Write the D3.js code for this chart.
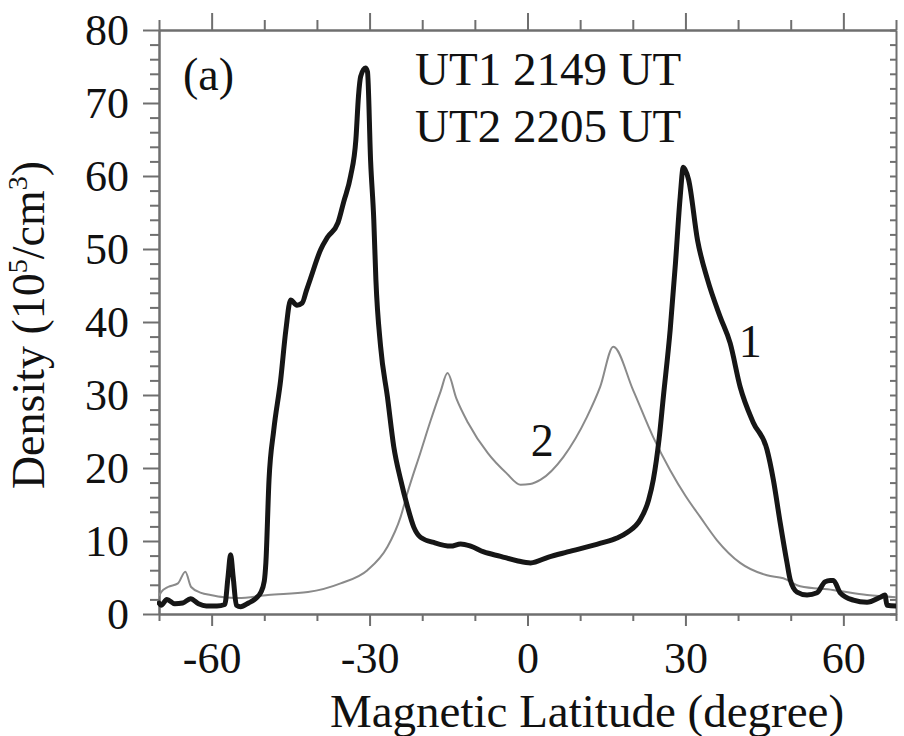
<!DOCTYPE html>
<html>
<head>
<meta charset="utf-8">
<script src="https://cdn.jsdelivr.net/npm/d3@7"></script>
<style>
  html, body { margin: 0; padding: 0; background: #fff; }
  svg { display: block; }
  text { font-family: "Liberation Serif", "Times New Roman", serif; fill: #111; }
</style>
</head>
<body>
<svg id="chart" width="904" height="736"></svg>
<script>
// Electron density profiles along magnetic latitude
// Curve 1 (UT1 2149 UT): thick black
const lat1 = [-70, -69.6, -68.5, -67, -65.5, -64, -62.5, -61, -59, -57.5, -56.9, -56.4, -55.9, -55.3, -54.5, -53, -51.5, -50.7, -50, -49.7, -49.1, -48.2, -46.9, -45.9, -45, -43.8, -42.8, -42, -41.2, -39.3, -38, -36, -34.9, -33.6, -32.6, -32.1, -31.7, -30.8, -30.4, -29.8, -29.2, -28.8, -27.9, -26.6, -25.4, -24.1, -22.8, -21.6, -20.3, -17.8, -14.6, -12.7, -10.8, -8.3, -5.1, -2, 0.6, 4, 7.6, 13.9, 17, 19, 21.4, 23, 23.9, 25, 25.8, 27.1, 28.1, 29, 29.6, 30.6, 32.3, 34.2, 36.6, 38.5, 40.4, 42.9, 45.5, 46.7, 48, 49.3, 49.9, 51.2, 53.1, 55, 56.5, 57.5, 58.1, 59.4, 61.9, 64.5, 67, 67.9, 68.3, 70];
const dens1 = [1.5, 1.2, 2.0, 1.4, 1.5, 2.1, 1.4, 1.1, 1.1, 1.3, 5.0, 8.1, 5.0, 1.2, 1.0, 1.5, 2.2, 2.9, 4.5, 7.0, 18.4, 25.2, 32.0, 38.9, 43.0, 42.3, 42.6, 44.3, 46.0, 49.9, 51.6, 53.6, 56.5, 60.0, 65.0, 71.0, 73.6, 74.8, 74.3, 62.0, 54.0, 45.8, 36.6, 29.7, 22.9, 18.4, 14.7, 11.9, 10.5, 9.8, 9.3, 9.6, 9.3, 8.5, 7.9, 7.3, 7.0, 7.8, 8.5, 9.7, 10.4, 11.2, 12.9, 15.6, 18.4, 24.0, 29.7, 38.9, 48.0, 57.1, 61.2, 59.5, 51.2, 45.8, 40.7, 37.1, 31.1, 26.2, 22.5, 18.4, 12.5, 7.0, 4.7, 3.0, 2.6, 2.9, 4.4, 4.6, 4.6, 2.9, 1.9, 1.6, 2.3, 2.6, 1.2, 1.1];

// Curve 2 (UT2 2205 UT): thin grey
const lat2 = [-70, -69.6, -68.3, -66.4, -65, -63.9, -62, -60.2, -57.7, -55, -49.3, -41.7, -35.5, -30.4, -26.6, -24.1, -22.8, -20.3, -18.4, -16.5, -15.2, -13.5, -11.3, -7.5, -4, -1.3, 0.5, 2.5, 6.8, 11.3, 13.8, 16.3, 20.1, 23.9, 27.1, 30, 32.8, 36, 40.4, 45.5, 48.6, 51.8, 58, 64.5, 70];
const dens2 = [2.5, 3.0, 3.7, 4.2, 5.8, 3.7, 2.9, 2.6, 2.3, 2.2, 2.6, 3.0, 4.2, 6.0, 9.2, 13.3, 16.6, 22.2, 26.5, 30.5, 33.0, 29.5, 26.2, 22.0, 19.3, 17.7, 17.8, 18.4, 21.5, 27.0, 31.1, 36.6, 30.6, 24.2, 19.7, 16.2, 13.3, 10.1, 7.0, 5.3, 4.9, 3.8, 3.3, 2.6, 2.3];

// Axis ticks and labels
const xTicksMajor = [-60, -30, 0, 30, 60];
const xTicksMinor = [-70, -50, -40, -20, -10, 10, 20, 40, 50, 70];
const yTicksMajor = [0, 10, 20, 30, 40, 50, 60, 70, 80];
const yTicksMinor = d3.range(0, 81, 2).filter(v => v % 10 !== 0);
const timeLines = ["UT1 2149 UT", "UT2 2205 UT"];

const svg = d3.select("#chart");
const W = 904, H = 736;
const margin = { left: 159, top: 30, right: 8, bottom: 122 };
const innerW = W - margin.left - margin.right;
const innerH = H - margin.top - margin.bottom;

const x = d3.scaleLinear().domain([-70, 70]).range([0, innerW]);
const y = d3.scaleLinear().domain([0, 80]).range([innerH, 0]);

const g = svg.append("g").attr("transform", `translate(${margin.left},${margin.top})`);

svg.append("defs").append("clipPath").attr("id", "plotClip")
  .append("rect").attr("x", -2).attr("y", 0).attr("width", innerW + 2).attr("height", innerH);

const axisColor = "#6f6f6f";
const plainNum = d => String(d);   // hyphen-minus, as printed on the axes

function styleAxis(sel) {
  sel.select(".domain").attr("stroke", axisColor).attr("stroke-width", 2);
  sel.selectAll(".tick line").attr("stroke", axisColor).attr("stroke-width", 2);
}

// Bottom axis: major labelled ticks, then minor ticks
const xMajor = g.append("g").attr("transform", `translate(0,${innerH})`)
  .call(d3.axisBottom(x).tickValues(xTicksMajor).tickSize(12).tickSizeOuter(0).tickPadding(16)
    .tickFormat(plainNum));
styleAxis(xMajor);
xMajor.selectAll(".tick text").attr("font-size", 44).attr("fill", "#111")
  .style("font-family", "'Liberation Serif', serif");
const xMinor = g.append("g").attr("transform", `translate(0,${innerH})`)
  .call(d3.axisBottom(x).tickValues(xTicksMinor).tickSize(7).tickSizeOuter(0).tickFormat(""));
styleAxis(xMinor);

// Top axis ticks (pointing up)
const xTopMajor = g.append("g")
  .call(d3.axisTop(x).tickValues(xTicksMajor).tickSize(17).tickSizeOuter(0).tickFormat(""));
styleAxis(xTopMajor);
const xTopMinor = g.append("g")
  .call(d3.axisTop(x).tickValues(xTicksMinor).tickSize(10).tickSizeOuter(0).tickFormat(""));
styleAxis(xTopMinor);

// Left axis
const yMajor = g.append("g")
  .call(d3.axisLeft(y).tickValues(yTicksMajor).tickSize(16).tickSizeOuter(0).tickPadding(14)
    .tickFormat(plainNum));
styleAxis(yMajor);
yMajor.selectAll(".tick text").attr("font-size", 44).attr("fill", "#111")
  .style("font-family", "'Liberation Serif', serif");
const yMinor = g.append("g")
  .call(d3.axisLeft(y).tickValues(yTicksMinor).tickSize(9).tickSizeOuter(0).tickFormat(""));
styleAxis(yMinor);

// Right axis, small inward ticks
const yRight = g.append("g").attr("transform", `translate(${innerW},0)`)
  .call(d3.axisLeft(y).tickValues(d3.range(0, 81, 2)).tickSize(6).tickSizeOuter(0).tickFormat(""));
styleAxis(yRight);

// Curves
const line = d3.line().x(d => x(d[0])).y(d => y(d[1])).curve(d3.curveMonotoneX);
const plot = g.append("g").attr("clip-path", "url(#plotClip)");

plot.append("path")
  .datum(d3.zip(lat2, dens2))
  .attr("fill", "none")
  .attr("stroke", "#8a8a8a")
  .attr("stroke-width", 2)
  .attr("stroke-linejoin", "round")
  .attr("d", line);

plot.append("path")
  .datum(d3.zip(lat1, dens1))
  .attr("fill", "none")
  .attr("stroke", "#161616")
  .attr("stroke-width", 5)
  .attr("stroke-linejoin", "round")
  .attr("stroke-linecap", "round")
  .attr("d", line);

// Panel tag and time annotations
g.append("text").attr("x", 24).attr("y", 60).attr("font-size", 46).text("(a)");
g.append("text").attr("x", 256).attr("y", 55).attr("font-size", 47).text(timeLines[0]);
g.append("text").attr("x", 256).attr("y", 112).attr("font-size", 47).text(timeLines[1]);

// Curve labels
g.append("text").attr("x", x(42.3)).attr("y", y(35.2)).attr("font-size", 46)
  .attr("text-anchor", "middle").text("1");
g.append("text").attr("x", x(2.8)).attr("y", y(21.6)).attr("font-size", 46)
  .attr("text-anchor", "middle").text("2");

// Axis titles
svg.append("text").attr("x", 587).attr("y", 727)
  .attr("text-anchor", "middle").attr("font-size", 47).text("Magnetic Latitude (degree)");

const yt = svg.append("text")
  .attr("transform", `translate(44,${325}) rotate(-90)`)
  .attr("text-anchor", "middle").attr("font-size", 46);
yt.append("tspan").text("Density (10");
yt.append("tspan").attr("font-size", 28).attr("dy", -17).text("5");
yt.append("tspan").attr("dy", 17).text("/cm");
yt.append("tspan").attr("font-size", 28).attr("dy", -17).text("3");
yt.append("tspan").attr("dy", 17).text(")");
</script>
</body>
</html>
